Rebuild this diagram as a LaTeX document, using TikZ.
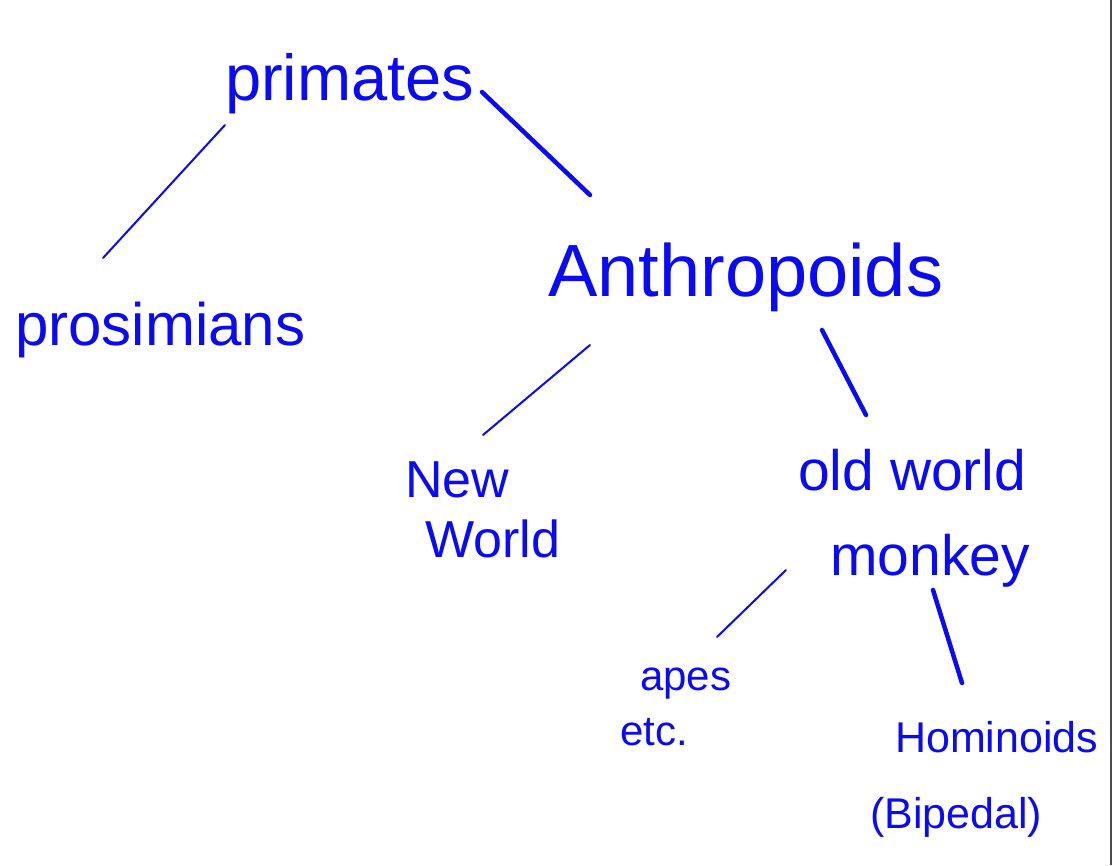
\documentclass[tikz,border=0pt]{standalone}
\usepackage{fontspec}
\setmainfont{Liberation Sans}
\definecolor{pen}{RGB}{10,10,245}
\begin{document}
\begin{tikzpicture}[x=1pt,y=-1pt,
  label/.style={text=pen,inner sep=0pt,anchor=base west,align=left},
  thinline/.style={draw=pen,line width=2pt,line cap=round},
  thickline/.style={draw=pen,line width=4.5pt,line cap=round}]
\useasboundingbox (0,0) rectangle (1114,865);
\fill[white] (0,0) rectangle (1114,865);
\draw[gray!60!black,line width=2.5pt] (1111,0) -- (1111,865);
% labels (multi-line nodes: base = baseline of last line)
\node[label,font=\fontsize{65}{70}\selectfont] (primates) at (225,100) {primates};
\node[label,font=\fontsize{60}{70}\selectfont] (prosimians) at (15,345) {prosimians};
\node[label,font=\fontsize{74}{80}\selectfont] (anthropoids) at (548,296) {Anthropoids};
\node[label,font=\fontsize{52}{60}\selectfont] (newworld) at (405,557) {New\\\hspace*{20pt}World};
\node[label,font=\fontsize{57}{85}\selectfont] (oldworld) at (798,575) {old world\\\hspace*{32pt}monkey};
\node[label,font=\fontsize{42}{55}\selectfont] (apes) at (620,745) {\hspace*{20pt}apes\\etc.};
\node[label,font=\fontsize{43}{76}\selectfont] (hominoids) at (870,828) {\hspace*{25pt}Hominoids\\(Bipedal)};
% connector ends
\coordinate (a1) at (225,125); \coordinate (a2) at (103,258);
\coordinate (b1) at (482,92);  \coordinate (b2) at (590,195);
\coordinate (c1) at (590,345); \coordinate (c2) at (483,435);
\coordinate (d1) at (822,330); \coordinate (d2) at (866,415);
\coordinate (e1) at (786,570); \coordinate (e2) at (717,637);
\coordinate (f1) at (933,590); \coordinate (f2) at (962,683);
\draw[thinline] (a1) -- (a2);
\draw[thickline] (b1) -- (b2);
\draw[thinline] (c1) -- (c2);
\draw[thickline] (d1) -- (d2);
\draw[thinline] (e1) -- (e2);
\draw[thickline] (f1) -- (f2);
\end{tikzpicture}
\end{document}
